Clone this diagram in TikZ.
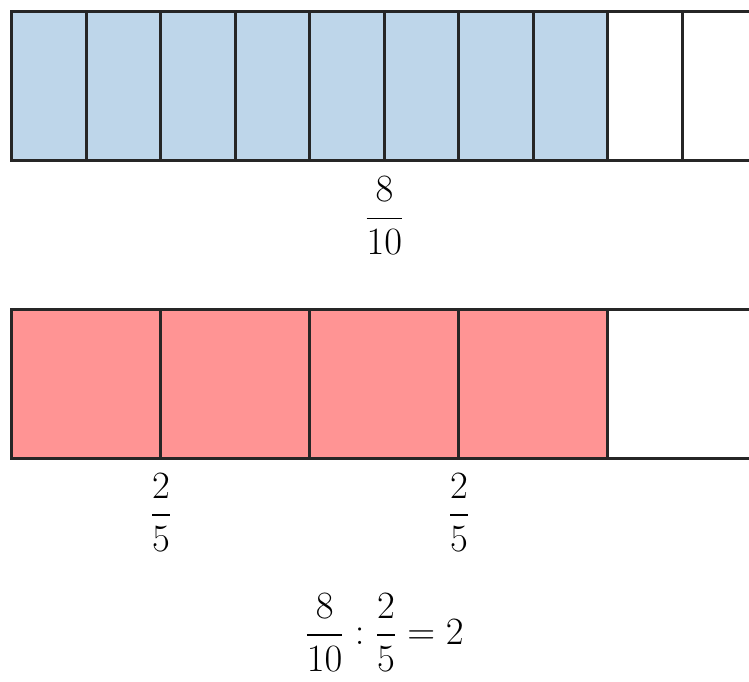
\documentclass[tikz,border=0pt]{standalone}
\usepackage{amsmath}
\usepackage{graphicx}
\usepackage{tikz}
\usetikzlibrary{positioning}
\definecolor{partblue}{RGB}{190,214,234}
\definecolor{partred}{RGB}{255,148,148}
\newcommand{\fracbox}[1]{\scalebox{1.186}{$\displaystyle #1$}}

\begin{document}
\begin{tikzpicture}[
        cell/.style={draw=black!85,line width=2.2pt,outer sep=0pt,inner sep=0pt,minimum height=4cm},
        tenth/.style={cell,minimum width=2cm},
        fifth/.style={cell,minimum width=4cm},
        frac/.style={inner sep=0pt,outer sep=0pt,font=\Huge}
    ]
    \clip (-0.32,0.32) rectangle (19.79,-17.99);

    %Strip of tenths
    \foreach \i in {1,...,10}{
        \ifnum\i<9 \def\col{partblue}\else \def\col{white}\fi
        \node[tenth,fill=\col,anchor=north west] (t\i) at ({2*(\i-1)},0) {};
    }

    %Strip of fifths
    \foreach \i in {1,...,5}{
        \ifnum\i<5 \def\col{partred}\else \def\col{white}\fi
        \node[fifth,fill=\col,anchor=north west] (b\i) at ({4*(\i-1)},-8) {};
    }

    \node[frac,below=0.43cm of t5.south east] (ten) {\fracbox{\frac{8}{10}}};
    \node[frac,below=0.4cm of b1.south east] (fifa) {\fracbox{\frac{2}{5}}};
    \node[frac,below=0.4cm of b3.south east] (fifb) {\fracbox{\frac{2}{5}}};

    %Result of the division
    \node[frac,below=3.62cm of b3.south] (eq) {\fracbox{\frac{8}{10}:\frac{2}{5}=2}};
\end{tikzpicture}
\end{document}
